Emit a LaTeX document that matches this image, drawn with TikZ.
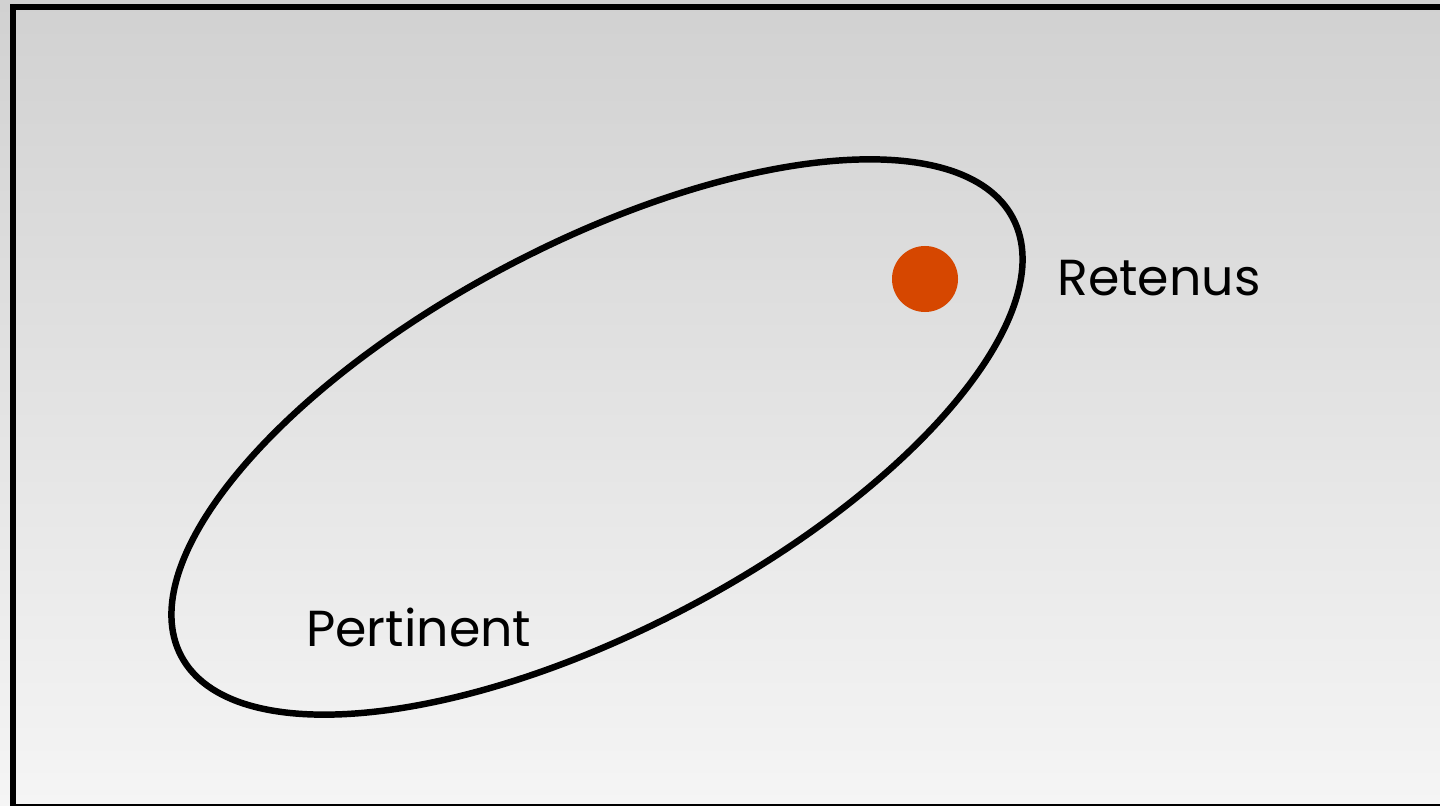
\documentclass[tikz,border=0pt]{standalone}
\usepackage{fontspec}
\setmainfont{Poppins}
\usetikzlibrary{positioning}

\definecolor{dotred}{RGB}{214,71,0}
\definecolor{bgtop}{RGB}{209,209,209}
\definecolor{bgbottom}{RGB}{245,245,245}

\begin{document}
\begin{tikzpicture}[
  x=0.025cm, y=-0.025cm,
  frame/.style={line width=4.5pt, black},
  ring/.style={line width=4.6pt, black},
  label/.style={font=\fontsize{36}{40}\selectfont, inner sep=0pt, anchor=base west}
]
\useasboundingbox (0,0) rectangle (1440,806);
\shade[top color=bgtop, bottom color=bgbottom] (0,0) rectangle (1440,806);

% frame: left, top and bottom only
\draw[frame] (1460,7) -- (13,7) -- (13,807) -- (1460,807);

% the set of pertinent items
\draw[ring, rotate around={27.76:(597,437)}] (597,437) ellipse [x radius=470, y radius=193];

\node[circle, fill=dotred, inner sep=0pt, minimum size=1.65cm] (dot) at (925,279) {};

\node[label] (retenus) at (1057,296) {Retenus};
\node[label] (pertinent) at (306,646) {Pertinent};

\end{tikzpicture}
\end{document}
